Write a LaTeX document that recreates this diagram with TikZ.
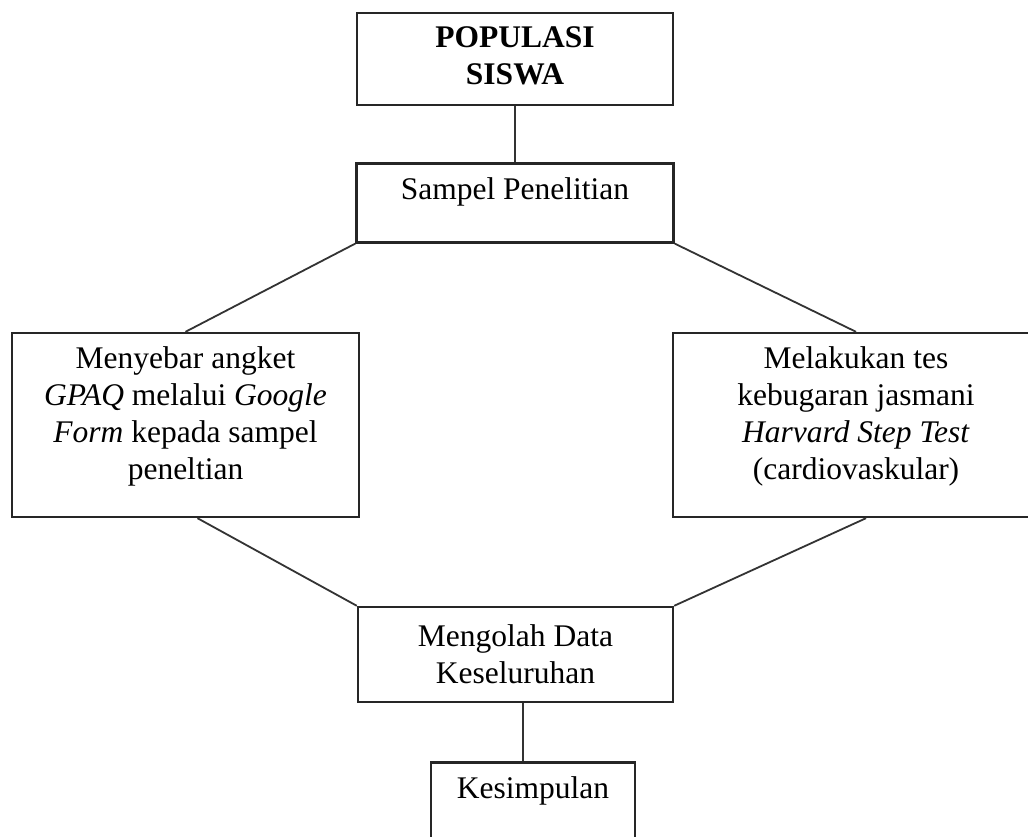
\documentclass[tikz,border=0pt]{standalone}
\usepackage{fontspec}
\setmainfont{Liberation Serif}
\usetikzlibrary{positioning}

\begin{document}
\begin{tikzpicture}[
    x=1pt, y=-1pt,
    every node/.style={font=\fontsize{31.5pt}{37pt}\selectfont},
    box/.style={rectangle, draw=black!85, line width=2.4pt, inner sep=0pt},
    txt/.style={anchor=north, align=center, inner sep=0pt, yshift=-15pt},
    link/.style={draw=black!80, line width=1.8pt}
]
    \path[use as bounding box, fill=white] (0,0) rectangle (1028,837);
    \clip (0,0) rectangle (1028,837);

    % boxes, text set at the top as in the original text boxes
    \node[box, minimum width=316pt, minimum height=92pt,
          label={[txt]north:{\textbf{POPULASI}\\ \textbf{SISWA}}}]   (pop)    at (515,59) {};
    \node[box, minimum width=317pt, minimum height=79pt, below=56pt of pop,
          label={[txt]north:{Sampel Penelitian}}]                     (sampel) {};
    \node[box, minimum width=347pt, minimum height=184pt,
          label={[txt]north:{Menyebar angket\\ \textit{GPAQ} melalui \textit{Google}\\
                 \textit{Form} kepada sampel\\ peneltian}}]           (angket) at (185.5,425) {};
    \node[box, minimum width=366pt, minimum height=184pt,
          label={[txt]north:{Melakukan tes\\ kebugaran jasmani\\
                 \textit{Harvard Step Test}\\ (cardiovaskular)}}]     (tes)    at (856,425) {};
    \node[box, minimum width=315pt, minimum height=95pt,
          label={[txt, yshift=-4pt]north:{Mengolah Data\\ Keseluruhan}}] (olah) at (515.5,654.5) {};
    \node[box, minimum width=204pt, minimum height=110pt, below=58pt of olah, xshift=17.5pt,
          label={[txt]north:{Kesimpulan}}]                            (kes)    {};

    % connectors
    \draw[link] (pop) -- (sampel);
    \draw[link] (sampel.south west) -- (angket.north);
    \draw[link] (sampel.south east) -- (tes.north);
    \draw[link] ([xshift=12pt]angket.south) -- (olah.north west);
    \draw[link] ([xshift=10pt]tes.south) -- (olah.north east);
    \draw[link] ([xshift=7.5pt]olah.south) -- ([xshift=-10pt]kes.north);
\end{tikzpicture}
\end{document}
